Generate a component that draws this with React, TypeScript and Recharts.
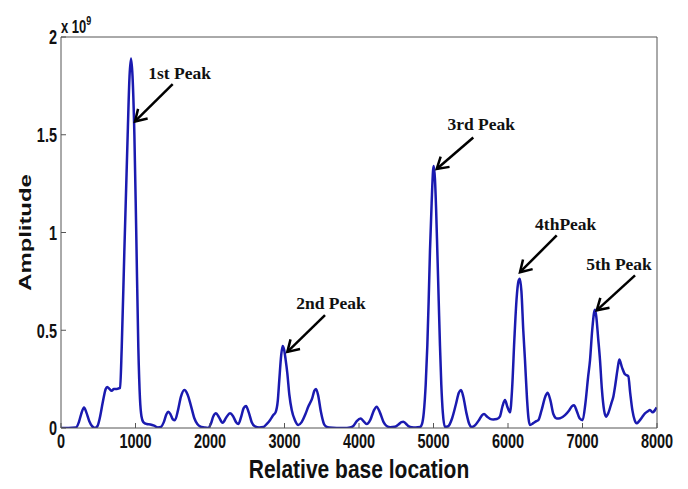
import React from 'react'
import {
  LineChart,
  Line,
  XAxis,
  YAxis,
  ReferenceLine,
} from 'recharts'

// relative base location (x) and amplitude in units of 1e9 (y)
const baseLocation = [
  0, 100, 200, 240, 270, 309, 340, 380, 420, 456, 490, 520, 560, 600, 620, 650, 680, 710, 750, 793,
  815, 850, 880, 895, 920, 940, 960, 985, 1010, 1038, 1060, 1080, 1105, 1150, 1200, 1250, 1300, 1340,
  1380, 1415, 1440, 1470, 1500, 1530, 1570, 1610, 1655, 1700, 1740, 1790, 1830, 1866, 1920, 1975,
  2010, 2045, 2080, 2120, 2170, 2220, 2268, 2310, 2350, 2380, 2420, 2450, 2483, 2520, 2560, 2604,
  2660, 2716, 2760, 2805, 2850, 2880, 2910, 2930, 2955, 2975, 2995, 3015, 3038, 3065, 3097, 3140,
  3185, 3230, 3280, 3320, 3370, 3400, 3423, 3450, 3490, 3530, 3557, 3600, 3700, 3800, 3880, 3924,
  3970, 4022, 4060, 4103, 4150, 4200, 4237, 4280, 4330, 4371, 4420, 4480, 4530, 4570, 4595, 4630,
  4670, 4707, 4760, 4819, 4845, 4870, 4895, 4917, 4935, 4953, 4975, 4995, 5005, 5020, 5035, 5051,
  5070, 5087, 5105, 5125, 5154, 5200, 5250, 5300, 5340, 5369, 5400, 5440, 5480, 5512, 5560, 5610,
  5650, 5678, 5720, 5760, 5803, 5850, 5893, 5925, 5960, 5990, 6027, 6055, 6085, 6115, 6140, 6158,
  6180, 6205, 6228, 6255, 6275, 6295, 6340, 6380, 6407, 6450, 6500, 6532, 6570, 6610, 6653, 6700,
  6765, 6820, 6860, 6886, 6920, 6960, 7002, 7040, 7075, 7101, 7130, 7155, 7168, 7185, 7210, 7235,
  7260, 7290, 7315, 7350, 7390, 7414, 7440, 7470, 7494, 7530, 7570, 7615, 7640, 7670, 7700, 7727,
  7760, 7800, 7839, 7875, 7906, 7942, 7970, 7996,
]
const amplitude = [
  0, 0, 0.002, 0.03, 0.07, 0.105, 0.08, 0.035, 0.008, 0, 0.01, 0.05, 0.13, 0.2, 0.21, 0.2, 0.19, 0.2, 0.2, 0.205,
  0.41, 0.9, 1.3, 1.5, 1.8, 1.89, 1.8, 1.5, 1.0, 0.41, 0.15, 0.06, 0.03, 0.02, 0.018, 0.012, 0.003, 0.005,
  0.03, 0.07, 0.083, 0.07, 0.045, 0.04, 0.09, 0.16, 0.194, 0.17, 0.12, 0.05, 0.02, 0.008, 0.003, 0,
  0.02, 0.06, 0.075, 0.055, 0.027, 0.055, 0.075, 0.06, 0.03, 0.02, 0.06, 0.1, 0.112, 0.08, 0.03, 0.008,
  0.003, 0.005, 0.02, 0.04, 0.066, 0.08, 0.14, 0.245, 0.37, 0.42, 0.4, 0.35, 0.28, 0.17, 0.092, 0.04,
  0.015, 0.03, 0.07, 0.11, 0.15, 0.19, 0.2, 0.17, 0.08, 0.02, 0.008, 0.002, 0, 0, 0.003, 0.01,
  0.035, 0.049, 0.035, 0.02, 0.04, 0.09, 0.109, 0.08, 0.03, 0.01, 0.004, 0.006, 0.018, 0.03, 0.032, 0.022,
  0.008, 0.004, 0.003, 0.005, 0.02, 0.08, 0.22, 0.42, 0.65, 0.91, 1.15, 1.32, 1.34, 1.27, 1.12, 0.91,
  0.65, 0.42, 0.22, 0.08, 0.005, 0.01, 0.05, 0.12, 0.18, 0.194, 0.16, 0.08, 0.02, 0.005, 0.015, 0.04,
  0.065, 0.071, 0.058, 0.047, 0.044, 0.046, 0.06, 0.11, 0.143, 0.11, 0.08, 0.2, 0.45, 0.66, 0.75, 0.764,
  0.7, 0.5, 0.347, 0.15, 0.05, 0.015, 0.025, 0.035, 0.04, 0.09, 0.16, 0.18, 0.14, 0.07, 0.049, 0.05,
  0.066, 0.09, 0.112, 0.117, 0.09, 0.05, 0.04, 0.13, 0.26, 0.347, 0.5, 0.59, 0.605, 0.57, 0.46, 0.347,
  0.2, 0.09, 0.058, 0.08, 0.13, 0.16, 0.22, 0.3, 0.35, 0.31, 0.275, 0.265, 0.18, 0.09, 0.04, 0.024,
  0.035, 0.055, 0.075, 0.085, 0.092, 0.08, 0.09, 0.105,
]

const xTicks = [0, 1000, 2000, 3000, 4000, 5000, 6000, 7000, 8000]
const yTicks = [0, 0.5, 1, 1.5, 2]

// peak annotations: arrow from tail to tip, in data coordinates
const peakLabels = ['1st Peak', '2nd Peak', '3rd Peak', '4thPeak', '5th Peak']
const tailX = [1499, 3544, 5534, 6654, 7705]
const tailY = [1.759, 0.577, 1.486, 0.985, 0.781]
const tipX = [993, 3038, 5043, 6161, 7191]
const tipY = [1.568, 0.389, 1.325, 0.797, 0.602]
// text offset from arrow tail, pixels
const labelOffset = [
  [7, -5],
  [6, -6],
  [8, -7],
  [9, -5],
  [-16, -5],
]

const data = baseLocation.map((x, i) => ({ x, y: amplitude[i] }))

const sans = '"Liberation Sans", Arial, sans-serif'
const serif = '"Liberation Serif", "Times New Roman", serif'

const XTick = ({ x, y, payload }: any) => (
  <text
    transform={`translate(${x},${y}) scale(1,1.4)`}
    y={10.4}
    textAnchor="middle"
    fontFamily={sans}
    fontWeight="bold"
    fontSize={14.5}
    fill="#111"
  >
    {payload.value}
  </text>
)

const YTick = ({ x, y, payload }: any) => (
  <text
    transform={`translate(${x},${y}) scale(1,1.4)`}
    y={5.2}
    textAnchor="end"
    fontFamily={sans}
    fontWeight="bold"
    fontSize={14.5}
    fill="#111"
  >
    {payload.value}
  </text>
)

const yLabel = ({ viewBox }: any) => {
  const cy = viewBox.y + viewBox.height / 2
  return (
    <g>
      <text
        transform={`translate(25,${cy}) rotate(-90) scale(1.4,1)`}
        textAnchor="middle"
        dominantBaseline="central"
        fontFamily={sans}
        fontWeight="bold"
        fontSize={17}
        fill="#111"
      >
        Amplitude
      </text>
      <text
        transform={`translate(${viewBox.x + viewBox.width},33) scale(1,1.35)`}
        fontFamily={sans}
        fontWeight="bold"
        fontSize={13}
        fill="#111"
      >
        x 10
        <tspan dy={-6} fontSize={9}>9</tspan>
      </text>
    </g>
  )
}

const xLabel = ({ viewBox }: any) => (
  <text
    transform={`translate(${viewBox.x + viewBox.width / 2},478) scale(1,1.2)`}
    textAnchor="middle"
    fontFamily={sans}
    fontWeight="bold"
    fontSize={21}
    fill="#111"
  >
    Relative base location
  </text>
)

const arrowShape = (text: string, dx: number, dy: number) => (props: any) => {
  const { x1, y1, x2, y2 } = props
  const ang = Math.atan2(y2 - y1, x2 - x1)
  const len = 13
  const spread = 0.55
  const ax = x2 - len * Math.cos(ang - spread)
  const ay = y2 - len * Math.sin(ang - spread)
  const bx = x2 - len * Math.cos(ang + spread)
  const by = y2 - len * Math.sin(ang + spread)
  return (
    <g>
      <line x1={x1} y1={y1} x2={x2} y2={y2} stroke="#000" strokeWidth={2.5} />
      <polyline
        points={`${ax},${ay} ${x2},${y2} ${bx},${by}`}
        fill="none"
        stroke="#000"
        strokeWidth={2.5}
      />
      <text
        x={x1 + dx}
        y={y1 + dy}
        textAnchor="middle"
        fontFamily={serif}
        fontWeight="bold"
        fontSize={17.5}
        fill="#111"
      >
        {text}
      </text>
    </g>
  )
}

export default function App() {
  return (
    <div style={{ position: 'absolute', left: 0, top: 0, width: 688, height: 489, background: '#fff' }}>
      <LineChart
        width={688}
        height={489}
        data={data}
        margin={{ top: 36, right: 30, bottom: 0, left: 0 }}
      >
        <XAxis
          xAxisId="b"
          dataKey="x"
          type="number"
          domain={[0, 8000]}
          ticks={xTicks}
          allowDataOverflow
          height={61}
          stroke="#555"
          tickSize={-5}
          tickMargin={10}
          tick={<XTick />}
          label={xLabel}
        />
        <XAxis
          xAxisId="t"
          orientation="top"
          type="number"
          domain={[0, 8000]}
          ticks={xTicks}
          height={1}
          stroke="#555"
          tickSize={-5}
          tick={false}
        />
        <YAxis
          yAxisId="l"
          type="number"
          domain={[0, 2]}
          ticks={yTicks}
          allowDataOverflow
          width={61}
          stroke="#555"
          tickSize={-5}
          tickMargin={9}
          tick={<YTick />}
          label={yLabel}
        />
        <YAxis
          yAxisId="r"
          orientation="right"
          type="number"
          domain={[0, 2]}
          ticks={yTicks}
          width={1}
          stroke="#555"
          tickSize={-5}
          tick={false}
        />
        <Line
          xAxisId="b"
          yAxisId="l"
          type="monotone"
          dataKey="y"
          stroke="#1a1ab0"
          strokeWidth={2.5}
          dot={false}
          isAnimationActive={false}
        />
        {peakLabels.map((label, i) => (
          <ReferenceLine
            key={label}
            xAxisId="b"
            yAxisId="l"
            segment={[
              { x: tailX[i], y: tailY[i] },
              { x: tipX[i], y: tipY[i] },
            ]}
            shape={arrowShape(label, labelOffset[i][0], labelOffset[i][1])}
          />
        ))}
      </LineChart>
    </div>
  )
}
